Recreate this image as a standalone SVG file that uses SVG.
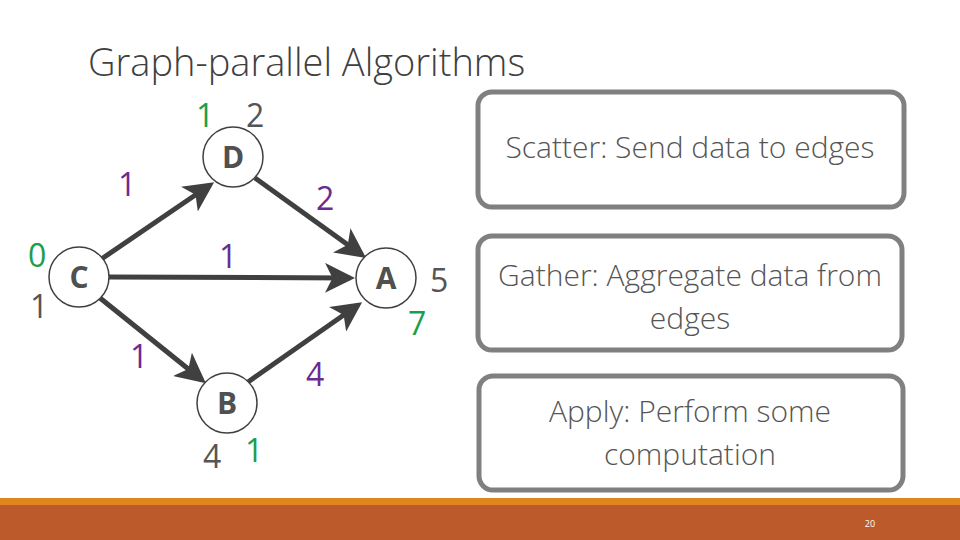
<svg xmlns="http://www.w3.org/2000/svg" width="960" height="540" viewBox="0 0 960 540">
<style>
text{font-family:"Open Sans","Liberation Sans",sans-serif}
.n circle{fill:#fff;stroke:#404040;stroke-width:1.5}
.n text{font-size:30px;font-weight:bold;fill:#505050;text-anchor:middle}
.g{fill:#1a9e4a;font-size:32px}
.k{fill:#555;font-size:32px}
.p{fill:#6a2c8e;font-size:32px}
.e{stroke:#404040;stroke-width:5;fill:none;marker-end:url(#ar)}
.b rect{fill:#fff;stroke:#808080;stroke-width:5}
.b text{font-size:30px;font-weight:300;fill:#555;text-anchor:middle}
</style>
<defs><marker id="ar" markerWidth="6" markerHeight="6" refX="5" refY="3" orient="auto" markerUnits="strokeWidth"><path d="M0,0L6,3L0,6L1.5,3z" fill="#404040"/></marker></defs>
<rect width="960" height="540" fill="#fff"/>
<text x="88" y="76" font-size="38" font-weight="300" fill="#404040">Graph-parallel Algorithms</text>
<g id="edges">
<line class="e" x1="100" y1="260" x2="210" y2="185"/>
<line class="e" x1="255" y1="178" x2="362" y2="255"/>
<line class="e" x1="109" y1="277" x2="350" y2="278"/>
<line class="e" x1="100" y1="298" x2="202" y2="380"/>
<line class="e" x1="248" y1="382" x2="358" y2="305"/>
</g>
<text class="p" x="118" y="196">1</text>
<text class="p" x="316" y="210">2</text>
<text class="p" x="219" y="268">1</text>
<text class="p" x="130" y="368">1</text>
<text class="p" x="306" y="386">4</text>
<g id="D" class="n"><circle cx="233" cy="157" r="30"/><text x="233" y="168">D</text></g>
<g id="C" class="n"><circle cx="79" cy="277" r="30"/><text x="79" y="288">C</text></g>
<g id="A" class="n"><circle cx="386" cy="278" r="30"/><text x="386" y="289">A</text></g>
<g id="B" class="n"><circle cx="227" cy="403" r="30"/><text x="227" y="414">B</text></g>
<text class="g" x="196" y="127">1</text><text class="k" x="246" y="127">2</text>
<text class="g" x="28" y="267">0</text><text class="k" x="30" y="318">1</text>
<text class="k" x="430" y="292">5</text><text class="g" x="408" y="335">7</text>
<text class="k" x="203" y="468">4</text><text class="g" x="245" y="462">1</text>
<g id="scatter" class="b"><rect x="478" y="92" width="426" height="115" rx="14"/><text x="690" y="158">Scatter: Send data to edges</text></g>
<g id="gather" class="b"><rect x="478" y="236" width="424" height="114" rx="14"/><text x="690" y="286">Gather: Aggregate data from</text><text x="690" y="329">edges</text></g>
<g id="apply" class="b"><rect x="479" y="376" width="424" height="114" rx="14"/><text x="690" y="422">Apply: Perform some</text><text x="690" y="465">computation</text></g>
<rect y="498" width="960" height="7" fill="#E0861E"/>
<rect y="505" width="960" height="35" fill="#BC5A2C"/>
<text x="870" y="527" font-size="9" fill="#fff" text-anchor="middle">20</text>
</svg>
